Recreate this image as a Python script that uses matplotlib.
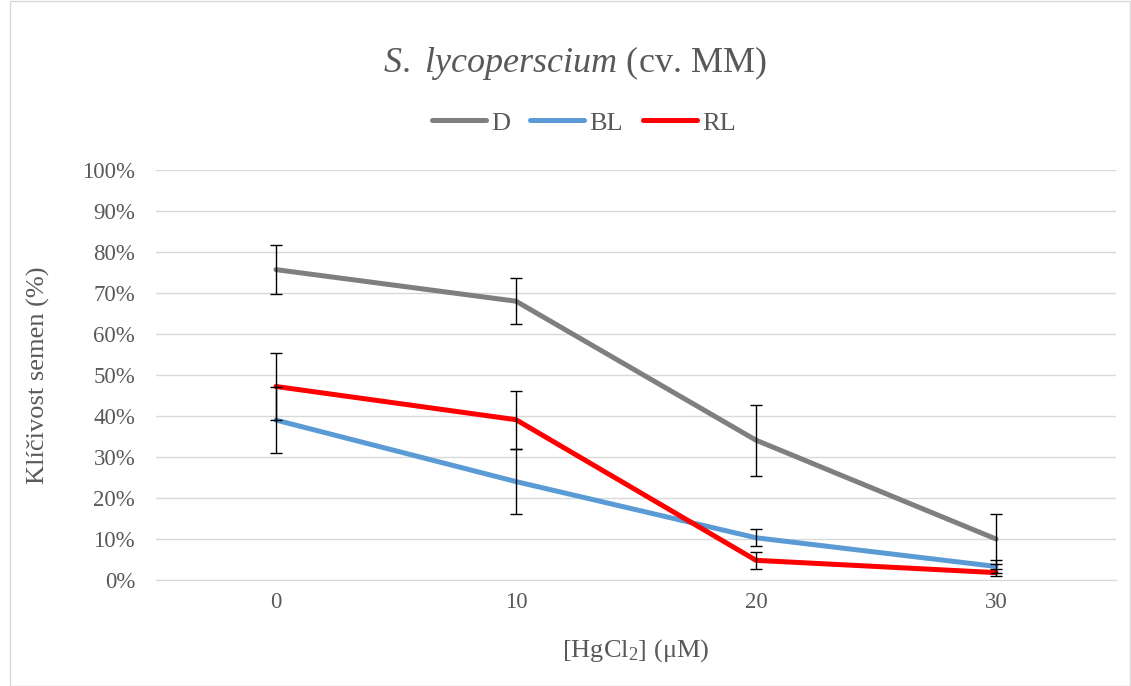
import numpy as np
import matplotlib
matplotlib.use("Agg")
import matplotlib.pyplot as plt
from matplotlib.patches import Rectangle

plt.rcParams["font.family"] = ["Liberation Serif", "DejaVu Serif"]
plt.rcParams["mathtext.fontset"] = "custom"
plt.rcParams["mathtext.rm"] = "Liberation Serif"
plt.rcParams["mathtext.it"] = "Liberation Serif:italic"

# data (percent)
conc = [0, 10, 20, 30]
d_mean = [75.7, 68.0, 34.1, 10.0]
d_err = [6.0, 5.6, 8.7, 6.2]
bl_mean = [39.0, 24.0, 10.3, 3.3]
bl_err = [8.0, 8.0, 2.1, 1.6]
rl_mean = [47.2, 39.1, 4.8, 1.8]
rl_err = [8.2, 7.1, 2.0, 0.8]

txt = "#595959"
fig = plt.figure(figsize=(11.31, 6.86), dpi=100)
ax = fig.add_axes([156/1131, 106/686, 960/1131, 410/686])

series = [("D", d_mean, d_err, "#7F7F7F"),
          ("BL", bl_mean, bl_err, "#5B9BD5"),
          ("RL", rl_mean, rl_err, "#FF0000")]
for name, m, e, c in series:
    ax.plot(conc, m, color=c, lw=3.6, label=name, solid_capstyle="round", zorder=3)
for name, m, e, c in series:
    ax.errorbar(conc, m, yerr=e, fmt="none", ecolor="black", elinewidth=1,
                capsize=4.2, capthick=1, zorder=4)

ax.set_xlim(-5, 35)
ax.set_ylim(0, 100)
ax.set_xticks(conc)
ax.set_yticks(np.arange(0, 101, 10))
ax.set_yticklabels([f"{v}%" for v in range(0, 101, 10)])
ax.grid(axis="y", color="#D9D9D9", lw=1)
ax.set_axisbelow(True)
for s in ["top", "right", "left"]:
    ax.spines[s].set_visible(False)
ax.spines["bottom"].set_color("#D9D9D9")
ax.tick_params(length=0, labelsize=16.5, colors=txt)
ax.tick_params(axis="y", pad=15)
ax.tick_params(axis="x", pad=9)

ax.set_xlabel(r"[HgCl$_\mathregular{2}$] (μM)", fontsize=19, color=txt, labelpad=17)
ax.set_ylabel("Klíčivost semen (%)", fontsize=19, color=txt, labelpad=23)

fig.text(0.508, 0.908, r"$\mathit{S.}$ $\mathit{lycoperscium}$ (cv. MM)", fontsize=26,
         color=txt, ha="center", va="center")
ax.legend(loc="center", bbox_to_anchor=(0.446, 1.115), ncol=3, frameon=False,
          fontsize=19, labelcolor=txt, handlelength=2.05, handletextpad=0.2,
          columnspacing=0.75)

fig.patches.append(Rectangle((10/1131, 0), 1120/1131, 0.998, transform=fig.transFigure,
                             fill=False, edgecolor="#D9D9D9", lw=1))
fig.savefig("out.png", dpi=100)
